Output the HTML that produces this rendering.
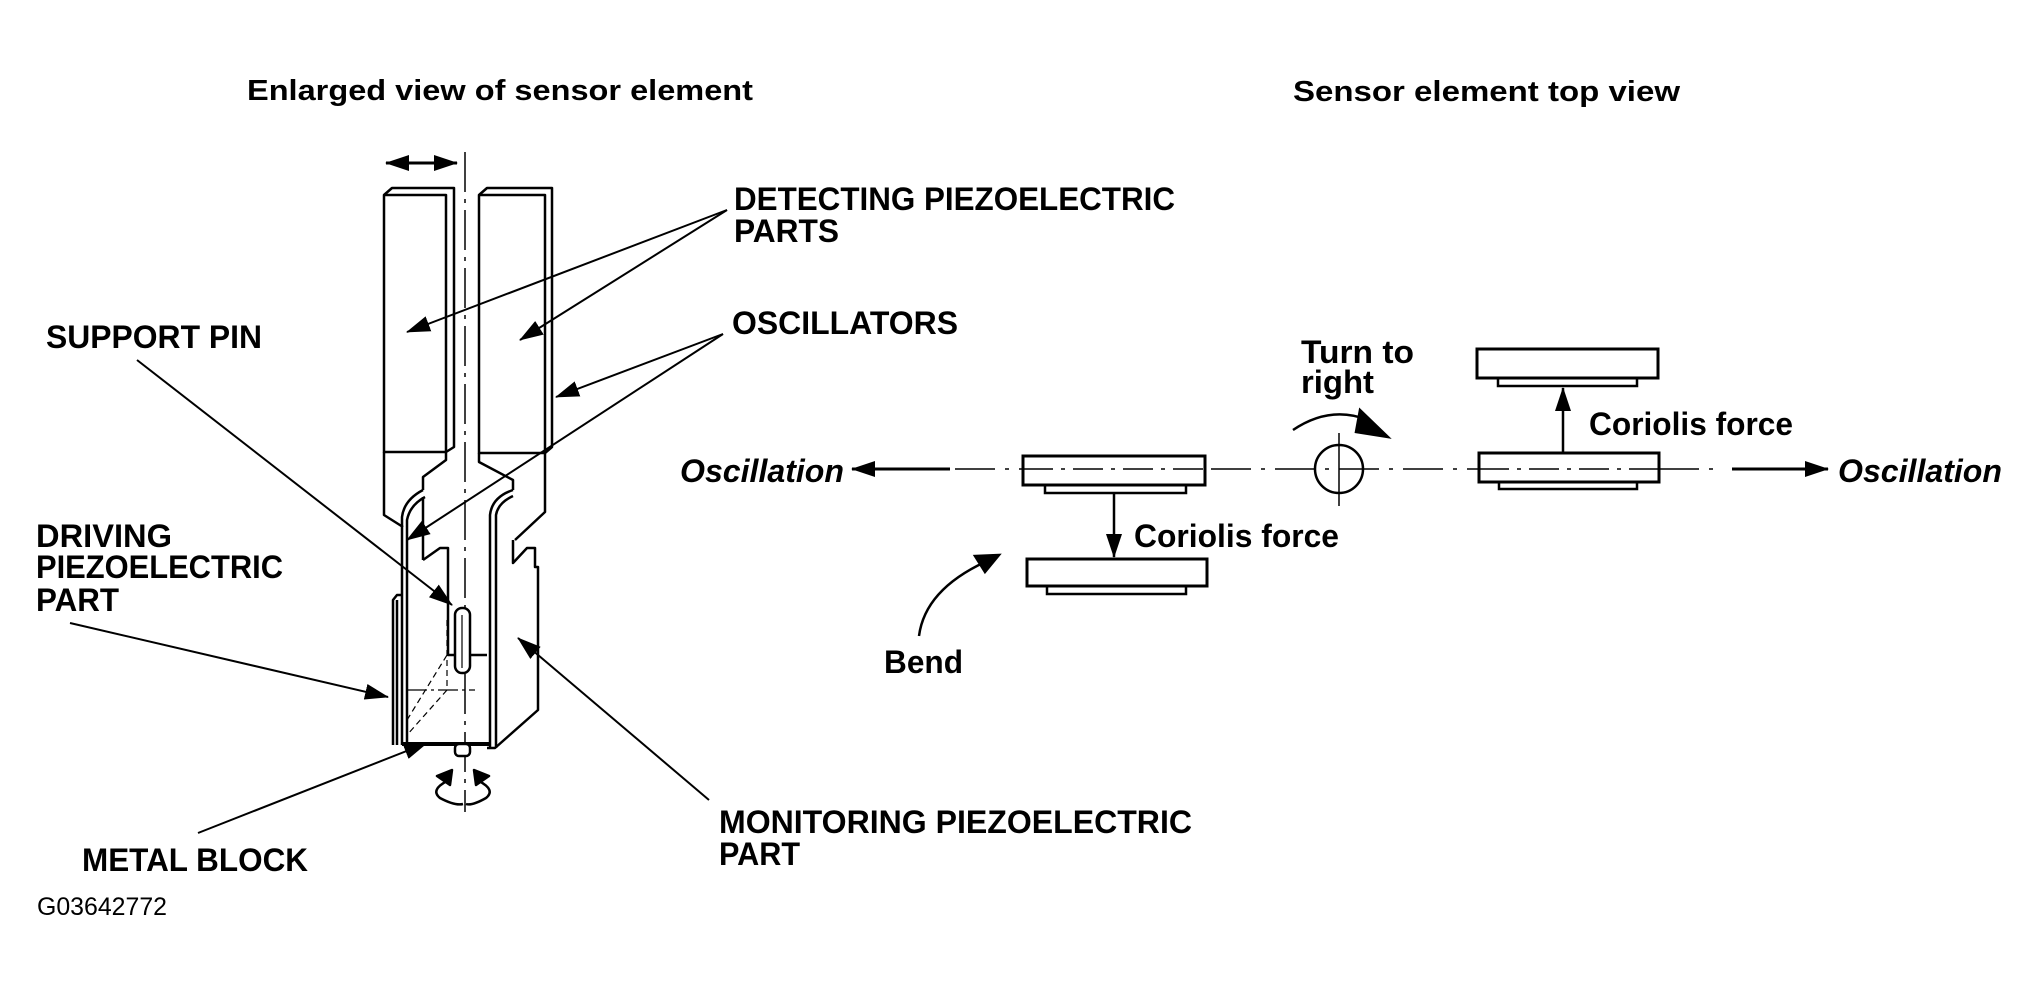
<!DOCTYPE html>
<html><head><meta charset="utf-8"><style>
html,body{margin:0;padding:0;background:#fff;}
svg{display:block}
text{font-family:"Liberation Sans",Arial,sans-serif;font-weight:bold;fill:#000}
</style></head><body>
<svg width="2040" height="991" viewBox="0 0 2040 991" xmlns="http://www.w3.org/2000/svg">
<defs>
<marker id="ahb" markerWidth="24" markerHeight="16" refX="23" refY="8" orient="auto-start-reverse" markerUnits="userSpaceOnUse" viewBox="0 0 24 16">
<path d="M0,0 L24,8 L0,16 z" fill="#000"/></marker>
</defs>

<text x="247" y="100" font-size="29" textLength="506" lengthAdjust="spacingAndGlyphs">Enlarged view of sensor element</text>
<text x="1293" y="101" font-size="29" textLength="387" lengthAdjust="spacingAndGlyphs">Sensor element top view</text>

<g font-size="32">
<text x="734" y="210" textLength="441" lengthAdjust="spacingAndGlyphs">DETECTING PIEZOELECTRIC</text>
<text x="734" y="242" textLength="105" lengthAdjust="spacingAndGlyphs">PARTS</text>
<text x="732" y="334" textLength="226" lengthAdjust="spacingAndGlyphs">OSCILLATORS</text>
<text x="46" y="348" textLength="216" lengthAdjust="spacingAndGlyphs">SUPPORT PIN</text>
<text x="36" y="547" textLength="136" lengthAdjust="spacingAndGlyphs">DRIVING</text>
<text x="36" y="578" textLength="247" lengthAdjust="spacingAndGlyphs">PIEZOELECTRIC</text>
<text x="36" y="611" textLength="83" lengthAdjust="spacingAndGlyphs">PART</text>
<text x="82" y="871" textLength="226" lengthAdjust="spacingAndGlyphs">METAL BLOCK</text>
<text x="719" y="833" textLength="473" lengthAdjust="spacingAndGlyphs">MONITORING PIEZOELECTRIC</text>
<text x="719" y="865" textLength="81" lengthAdjust="spacingAndGlyphs">PART</text>
<text x="884" y="673" textLength="79" lengthAdjust="spacingAndGlyphs">Bend</text>
<text x="680" y="482" font-style="italic" textLength="164" lengthAdjust="spacingAndGlyphs">Oscillation</text>
<text x="1838" y="482" font-style="italic" textLength="164" lengthAdjust="spacingAndGlyphs">Oscillation</text>
<text x="1134" y="547" textLength="205" lengthAdjust="spacingAndGlyphs">Coriolis force</text>
<text x="1589" y="435" textLength="204" lengthAdjust="spacingAndGlyphs">Coriolis force</text>
<text x="1301" y="363" textLength="113" lengthAdjust="spacingAndGlyphs">Turn to</text>
<text x="1301" y="393" textLength="73" lengthAdjust="spacingAndGlyphs">right</text>
</g>
<text x="37" y="915" font-size="25" style="font-weight:normal" textLength="130" lengthAdjust="spacingAndGlyphs">G03642772</text>

<g fill="none" stroke="#000" stroke-width="2.5" stroke-linejoin="round">
<line x1="465" y1="152" x2="465" y2="812" stroke-width="1.5" stroke-dasharray="40 7 4 7"/>
<line x1="386" y1="163" x2="457" y2="163" stroke-width="3" marker-end="url(#ahb)" marker-start="url(#ahb)"/>
<path d="M384,452 L384,195 L392,188 L454,188 L454,447 L446,452 Z"/>
<path d="M384,195 L446,195 L446,452"/>
<path d="M479,453 L479,195 L487,188 L552,188 L552,447 L545,453 Z"/>
<path d="M479,195 L545,195 L545,453"/>
<path d="M384,452 L384,515 L403,527"/>
<path d="M446,452 L446,460 L423,477 L423,490"/>
<path d="M545,453 L545,512 L515,540"/>
<path d="M479,453 L479,462 L513,480 L513,490"/>
<path d="M402,745 L402,517 Q404,500 423,490"/>
<path d="M407,745 L407,520 Q410,505 425,497"/>
<line x1="423" y1="497" x2="423" y2="560"/>
<path d="M490,748 L490,515 Q492,497 513,490"/>
<path d="M496,748 L496,515 Q498,503 513,496"/>
<path d="M423,560 L440,548 L448,548 L448,655 L487,655"/>
<path d="M513,540 L513,563 L527,548 L535,548 L535,567 L538,567 L538,710 L495,748 L487,748"/>
<path d="M393,745 L393,600 L397,595 L402,595"/>
<path d="M397,745 L397,600"/>
<line x1="402" y1="744" x2="490" y2="744" stroke-width="4"/>
<path d="M407,720 L447,655 M447,620 L447,690 L407,735" stroke-width="1.2" stroke-dasharray="6 4"/>
<line x1="407" y1="690" x2="475" y2="690" stroke-width="1.2" stroke-dasharray="20 4 3 4"/>
<rect x="455" y="608" width="15" height="65" rx="7" fill="#fff"/>
<line x1="462" y1="615" x2="462" y2="668" stroke-width="1.2"/>
<rect x="455" y="744" width="15" height="12" rx="4" fill="#fff"/>
<path d="M447,781 Q430,790 440,798 Q455,806 463,804"/>
<path d="M479,781 Q496,790 486,798 Q472,806 466,804"/>
<path d="M437,776 L452,770 L450,785 Z" fill="#000"/>
<path d="M489,776 L474,770 L476,785 Z" fill="#000"/>
</g>

<g stroke="#000" stroke-width="2" fill="none">
<line x1="727" y1="210" x2="407" y2="332" marker-end="url(#ahb)"/>
<line x1="727" y1="210" x2="520" y2="340" marker-end="url(#ahb)"/>
<line x1="723" y1="334" x2="556" y2="397" marker-end="url(#ahb)"/>
<line x1="723" y1="334" x2="407" y2="540" marker-end="url(#ahb)"/>
<line x1="137" y1="360" x2="452" y2="605" marker-end="url(#ahb)"/>
<line x1="70" y1="623" x2="388" y2="697" marker-end="url(#ahb)"/>
<line x1="198" y1="833" x2="427" y2="743" marker-end="url(#ahb)"/>
<line x1="709" y1="800" x2="518" y2="638" marker-end="url(#ahb)"/>
</g>

<g fill="none" stroke="#000" stroke-width="2.5">
<line x1="950" y1="469" x2="852" y2="469" stroke-width="3" marker-end="url(#ahb)"/>
<line x1="955" y1="469" x2="1720" y2="469" stroke-width="1.5" stroke-dasharray="40 10 4 10"/>
<line x1="1732" y1="469" x2="1828" y2="469" stroke-width="3" marker-end="url(#ahb)"/>
<rect x="1023" y="456" width="182" height="29" fill="#fff" stroke-width="3"/>
<rect x="1045" y="485" width="141" height="8"/>
<line x1="1023" y1="469" x2="1205" y2="469" stroke-width="1.5" stroke-dasharray="30 8 4 8"/>
<line x1="1114" y1="493" x2="1114" y2="557" marker-end="url(#ahb)"/>
<rect x="1027" y="559" width="180" height="27" stroke-width="3"/>
<rect x="1047" y="586" width="139" height="8"/>
<circle cx="1339" cy="469" r="24"/>
<line x1="1339" y1="433" x2="1339" y2="506" stroke-width="1.5"/>
<path d="M1293,430 Q1330,405 1368,420" stroke-width="2.5"/>
<path d="M1360,410 L1388,437 L1356,432 Z" fill="#000"/>
<rect x="1479" y="453" width="180" height="29" fill="#fff" stroke-width="3"/>
<line x1="1479" y1="469" x2="1659" y2="469" stroke-width="1.5" stroke-dasharray="30 8 4 8"/>
<rect x="1499" y="482" width="138" height="7"/>
<line x1="1563" y1="453" x2="1563" y2="388" marker-end="url(#ahb)"/>
<rect x="1477" y="349" width="181" height="29" stroke-width="3"/>
<rect x="1498" y="378" width="139" height="8"/>
<path d="M919,636 Q925,590 985,562" stroke-width="2.5"/>
<path d="M999,555 L975,556 L985,572 Z" fill="#000"/>
</g>
</svg>
</body></html>
